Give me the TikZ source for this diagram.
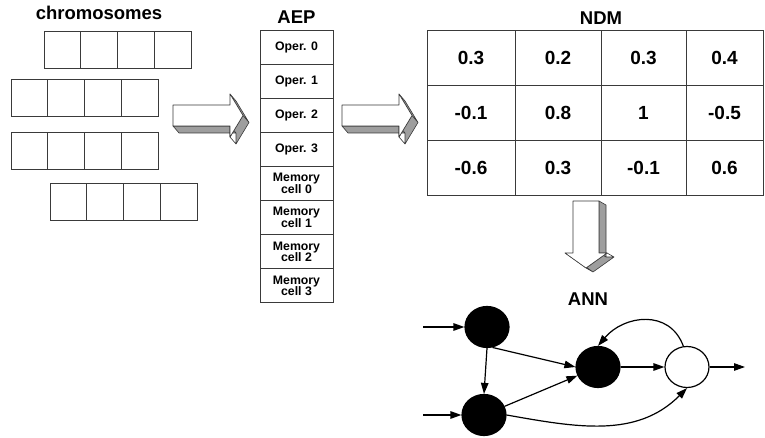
\documentclass[tikz,border=0pt]{standalone}
\usepackage{fontspec}
\setmainfont{Liberation Sans}
\usetikzlibrary{arrows.meta,positioning,shapes.geometric}
\definecolor{boxLine}{HTML}{3A3A3A}
\definecolor{arrGray}{HTML}{9E9E9E}

% 3D block arrow pointing right (origin = left end of body, centre line)
\tikzset{
  rblock/.pic={
    \filldraw[fill=arrGray, draw=boxLine, line width=0.6pt, line join=round]
      (0,-10.5) -- (57,-10.5) -- (63,-17.5) -- (6,-17.5) -- cycle
      (57,-10.5) -- (57,-21.5) -- (63,-28.5) -- (63,-17.5) -- cycle
      (57,-21.5) -- (70,0) -- (76,-7) -- (63,-28.5) -- cycle
      (57,21.5) -- (70,0) -- (76,-7) -- (63,14.5) -- cycle;
    \filldraw[fill=white, draw=boxLine, line width=0.6pt, line join=round]
      (0,10.5) -- (57,10.5) -- (57,21.5) -- (70,0) -- (57,-21.5) -- (57,-10.5) -- (0,-10.5) -- cycle;
  }
}

\begin{document}
\begin{tikzpicture}[x=1pt, y=1pt, font=\bfseries,
  cell/.style={draw=boxLine, line width=0.8pt, minimum width=36.75pt, minimum height=37pt, inner sep=0pt, outer sep=0pt},
  aep/.style={draw=boxLine, line width=0.8pt, minimum width=73pt, minimum height=34.1pt, inner sep=0pt, outer sep=0pt, align=center, font=\bfseries\fontsize{12.3}{11.5}\selectfont},
  ndm/.style={draw=boxLine, line width=0.8pt, minimum height=55pt, inner sep=0pt, outer sep=0pt, font=\bfseries\fontsize{19}{20}\selectfont},
  lbl/.style={inner sep=0pt, font=\bfseries\fontsize{18.5}{20}\selectfont},
  neuron/.style={ellipse, draw, line width=1.2pt, fill=black, minimum width=44pt, minimum height=41pt, inner sep=0pt},
  outn/.style={neuron, fill=white},
  syn/.style={-{Triangle[length=11pt,width=7.5pt]}, line width=1.2pt}
]
\useasboundingbox (0,0) rectangle (765,438);
% chromosomes
\node[lbl] (chr) at (99,425.5) {chromosomes};
\foreach \r/\xo/\yc in {1/44/388.5, 2/11/340.5, 3/11/287.5, 4/50/236.5}
  \foreach \k in {0,...,3}
    \node[cell] (c\r\k) at (\xo+18.375+36.75*\k, \yc) {};
% AEP column
\foreach \t [count=\i from 0] in {Oper. 0, Oper. 1, Oper. 2, Oper. 3, Memory\\cell 0, Memory\\cell 1, Memory\\cell 2, Memory\\cell 3}
  \node[aep] (aep\i) at (296.5, 390.95-34.1*\i) {\t};
\node[lbl, above=6pt of aep0] (aeptitle) {AEP};
% NDM table
\foreach \r/\y/\va/\vb/\vc/\vd in {1/380.5/0.3/0.2/0.3/0.4, 2/325.5/-0.1/0.8/1/-0.5, 3/270.5/-0.6/0.3/-0.1/0.6} {
  \node[ndm, minimum width=88pt] (m\r1) at (471,\y) {\va};
  \node[ndm, minimum width=86pt] (m\r2) at (558,\y) {\vb};
  \node[ndm, minimum width=85pt] (m\r3) at (643.5,\y) {\vc};
  \node[ndm, minimum width=77pt] (m\r4) at (724.5,\y) {\vd};
}
\node[lbl, above=5pt of m12.north east] (ndmtitle) {NDM};
% block arrows
\pic at (173,322.5) {rblock};
\pic at (342,322.5) {rblock};
\begin{scope}[shift={(586,237)}]
  \filldraw[fill=arrGray, draw=boxLine, line width=0.6pt, line join=round]
    (13,0) -- (20,-4) -- (20,-56) -- (13,-52) -- cycle
    (13,-52) -- (21,-52) -- (28,-56) -- (20,-56) -- cycle
    (21,-52) -- (0,-67) -- (7,-71) -- (28,-56) -- cycle
    (-21,-52) -- (0,-67) -- (7,-71) -- (-14,-56) -- cycle;
  \filldraw[fill=white, draw=boxLine, line width=0.6pt, line join=round]
    (-13,0) -- (13,0) -- (13,-52) -- (21,-52) -- (0,-67) -- (-21,-52) -- (-13,-52) -- cycle;
\end{scope}
% ANN
\node[lbl] (anntitle) at (588,139) {ANN};
\node[neuron] (n1) at (487,111) {};
\node[neuron] (n2) at (484,23) {};
\node[neuron] (n3) at (598,71) {};
\node[outn] (n4) at (687,71) {};
\coordinate (in1) at (423,111);
\coordinate (in2) at (423,23);
\coordinate (out) at (745,71);
\draw[syn] (in1) -- (n1);
\draw[syn] (in2) -- (n2);
\draw[syn] (n1.south) -- (n2.north);
\draw[syn] (n1.-75) -- (n3.west);
\draw[syn] (n2) -- (n3);
\draw[syn] (n3) -- (n4);
\draw[syn] (n4) -- (out);
\draw[syn] (n4.100) to[out=110, in=50, looseness=1.2] (n3.north);
\draw[syn] (n2.east) to[out=-10, in=-135] (n4.south);
\end{tikzpicture}
\end{document}
